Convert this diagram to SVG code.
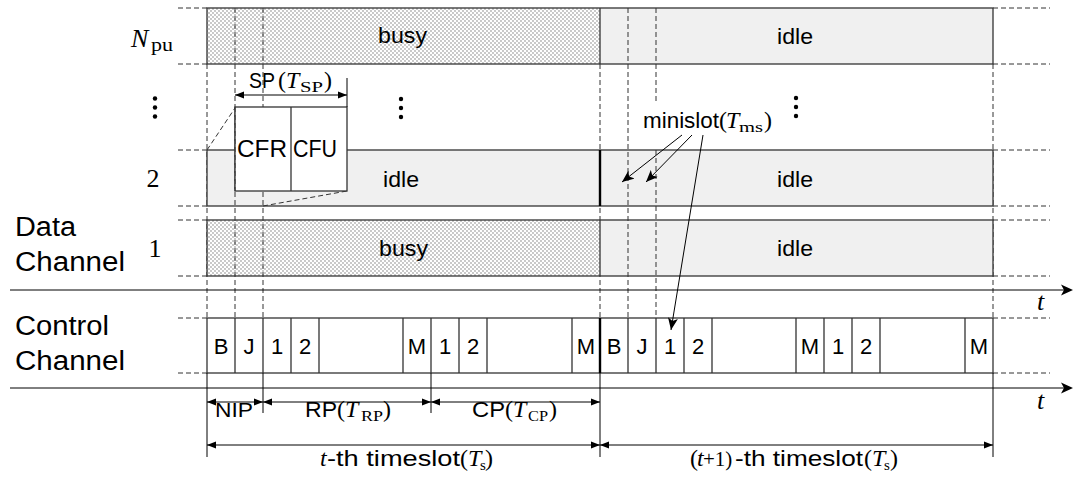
<svg xmlns="http://www.w3.org/2000/svg" width="1073" height="477" viewBox="0 0 1073 477">
<defs>
<pattern id="dots" width="4" height="4" patternUnits="userSpaceOnUse"><rect width="4" height="4" fill="#fff"/><circle cx="1" cy="1" r="0.65" fill="#666"/><circle cx="3" cy="3" r="0.65" fill="#666"/></pattern>
<marker id="ah" viewBox="0 0 10 8" refX="10" refY="4" markerWidth="9" markerHeight="8" markerUnits="userSpaceOnUse" orient="auto-start-reverse"><path d="M0,0 L10,4 L0,8 Z" fill="#000"/></marker>
<marker id="sa" viewBox="0 0 12 10" refX="12" refY="5" markerWidth="12" markerHeight="10" markerUnits="userSpaceOnUse" orient="auto"><path d="M0,0 L12,5 L0,10 L3,5 Z" fill="#000"/></marker>
<style>
.sans{font-family:"Liberation Sans",Arial,sans-serif;fill:#000}
.serif{font-family:"Liberation Serif","Times New Roman",serif;fill:#000}
.it{font-style:italic}
.dash{stroke:#333;stroke-width:1;stroke-dasharray:5 3;fill:none}
.box{stroke:#333;stroke-width:1.3}
.ln{stroke:#000;stroke-width:1;fill:none}
.dim{stroke:#000;stroke-width:1;fill:none;marker-start:url(#ah);marker-end:url(#ah)}
.cell{font-size:22px;text-anchor:middle}
.lbl{font-size:22px}
</style>
</defs>
<rect width="1073" height="477" fill="#fff"/>

<g id="guides">
<path class="dash" d="M178,8H207M178,64H207M178,150H207M178,206H207M178,220H207M178,276H207M178,318H207M178,373H207"/>
<path class="dash" d="M993,8H1050M993,64H1050M993,150H1050M993,206H1050M993,220H1050M993,276H1050M993,318H1050M993,373H1050"/>
<path class="dash" d="M207,64V318M600,64V318M993,64V318"/>
</g>

<g id="row-npu">
<rect x="207" y="8" width="393" height="56" fill="url(#dots)"/>
<rect x="600" y="8" width="393" height="56" fill="#f0f0f0"/>
<rect class="box" x="207" y="8" width="786" height="56" fill="none"/>
<line class="box" x1="600" y1="8" x2="600" y2="64"/>
<text class="sans lbl" x="378" y="43" textLength="49" lengthAdjust="spacingAndGlyphs">busy</text>
<text class="sans lbl" x="777" y="44" textLength="36" lengthAdjust="spacingAndGlyphs">idle</text>
<text class="serif" y="47"><tspan class="it" x="131" font-size="26">N</tspan><tspan x="151" y="51" font-size="18" textLength="22" lengthAdjust="spacingAndGlyphs">pu</tspan></text>
</g>

<g id="row-2">
<rect class="box" x="207" y="150" width="786" height="56" fill="#f0f0f0"/>
<line stroke="#000" stroke-width="2.4" x1="600" y1="150" x2="600" y2="206"/>
<text class="sans lbl" x="383" y="187" textLength="36" lengthAdjust="spacingAndGlyphs">idle</text>
<text class="sans lbl" x="777" y="187" textLength="36" lengthAdjust="spacingAndGlyphs">idle</text>
<text class="serif" x="153" y="187" font-size="26" text-anchor="middle">2</text>
</g>

<g id="row-1">
<rect x="207" y="220" width="393" height="56" fill="url(#dots)"/>
<rect x="600" y="220" width="393" height="56" fill="#f0f0f0"/>
<rect class="box" x="207" y="220" width="786" height="56" fill="none"/>
<line class="box" x1="600" y1="220" x2="600" y2="276"/>
<text class="sans lbl" x="379" y="256" textLength="49" lengthAdjust="spacingAndGlyphs">busy</text>
<text class="sans lbl" x="777" y="256" textLength="36" lengthAdjust="spacingAndGlyphs">idle</text>
<text class="serif" x="155" y="257" font-size="26" text-anchor="middle">1</text>
</g>

<g id="vdots" fill="#000">
<circle cx="155" cy="98.5" r="2.2"/><circle cx="155" cy="107.5" r="2.2"/><circle cx="155" cy="116.5" r="2.2"/>
<circle cx="401" cy="99" r="2.2"/><circle cx="401" cy="108" r="2.2"/><circle cx="401" cy="117" r="2.2"/>
<circle cx="796" cy="98" r="2.2"/><circle cx="796" cy="107" r="2.2"/><circle cx="796" cy="116" r="2.2"/>
</g>

<g id="minislot-guides">
<path class="dash" d="M235,8V318M263,8V318M628,8V318M656,8V103M656,150V318"/>
</g>

<g id="sp-box">
<path class="dash" d="M207,150L235,108M263,206L347,191"/>
<rect class="box" x="235" y="107" width="112" height="84" fill="#fff"/>
<line class="box" x1="291" y1="107" x2="291" y2="191"/>
<line class="dash" x1="235" y1="107" x2="235" y2="191"/>
<text class="sans" x="237" y="157" font-size="23" textLength="50" lengthAdjust="spacingAndGlyphs">CFR</text>
<text class="sans" x="293" y="157" font-size="23" textLength="44" lengthAdjust="spacingAndGlyphs">CFU</text>
<text y="88"><tspan class="sans" x="249" font-size="22" textLength="26" lengthAdjust="spacingAndGlyphs">SP</tspan><tspan class="serif" x="278" font-size="24">(</tspan><tspan class="serif it" x="286" font-size="24">T</tspan><tspan class="serif" x="300" y="92" font-size="15" textLength="23" lengthAdjust="spacingAndGlyphs">SP</tspan><tspan class="serif" x="324" y="88" font-size="24">)</tspan></text>
</g>

<g id="control">
<rect class="box" x="207" y="318" width="786" height="55" fill="#fff"/>
<path class="box" fill="none" d="M235,318V373M263,318V373M291,318V373M319,318V373M403,318V373M431,318V373M459,318V373M487,318V373M572,318V373M628,318V373M656,318V373M684,318V373M712,318V373M796,318V373M824,318V373M852,318V373M880,318V373M965,318V373"/>
<line stroke="#000" stroke-width="2.4" x1="600" y1="318" x2="600" y2="373"/>
<g class="sans cell">
<text x="221" y="354">B</text><text x="249" y="354">J</text><text x="277" y="354">1</text><text x="305" y="354">2</text>
<text x="417" y="354">M</text><text x="445" y="354">1</text><text x="473" y="354">2</text><text x="586" y="354">M</text>
<text x="614" y="354">B</text><text x="642" y="354">J</text><text x="670" y="354">1</text><text x="698" y="354">2</text>
<text x="810" y="354">M</text><text x="838" y="354">1</text><text x="866" y="354">2</text><text x="979" y="354">M</text>
</g>
</g>

<g id="channel-labels" class="sans" font-size="27">
<text x="15" y="236" textLength="61" lengthAdjust="spacingAndGlyphs">Data</text>
<text x="15" y="271" textLength="110" lengthAdjust="spacingAndGlyphs">Channel</text>
<text x="15" y="335" textLength="94" lengthAdjust="spacingAndGlyphs">Control</text>
<text x="15" y="370" textLength="110" lengthAdjust="spacingAndGlyphs">Channel</text>
</g>

<g id="connectors">
<line class="ln" x1="10" y1="290" x2="1066" y2="290"/>
<path d="M1073,290 L1061,284.5 L1064,290 L1061,295.5 Z" fill="#000"/>
<line class="ln" x1="10" y1="388" x2="1066" y2="388"/>
<path d="M1073,388 L1061,382.5 L1064,388 L1061,393.5 Z" fill="#000"/>
<path class="ln" d="M207,373V457M263,373V413M431,373V413M600,373V457M993,373V457M347,78V107"/>
<line class="dim" x1="235" y1="95" x2="347" y2="95"/>
<line class="dim" x1="207" y1="402" x2="263" y2="402"/>
<line class="dim" x1="263" y1="402" x2="431" y2="402"/>
<line class="dim" x1="431" y1="402" x2="600" y2="402"/>
<line class="dim" x1="207" y1="445" x2="600" y2="445"/>
<line class="dim" x1="600" y1="445" x2="993" y2="445"/>
<line class="ln" x1="682" y1="135" x2="622" y2="182" marker-end="url(#sa)"/>
<line class="ln" x1="692" y1="135" x2="646" y2="182" marker-end="url(#sa)"/>
<line class="ln" x1="703" y1="135" x2="671" y2="330" marker-end="url(#sa)"/>
</g>

<g id="texts">
<text y="128"><tspan class="sans" x="643" font-size="22" textLength="76" lengthAdjust="spacingAndGlyphs">minislot</tspan><tspan class="serif" x="719" font-size="24">(</tspan><tspan class="serif it" x="726" font-size="24">T</tspan><tspan class="serif" x="739" y="132" font-size="15" textLength="24" lengthAdjust="spacingAndGlyphs">ms</tspan><tspan class="serif" x="764" y="128" font-size="24">)</tspan></text>
<text class="serif it" x="1037" y="310" font-size="26">t</text>
<text class="serif it" x="1037" y="409" font-size="26">t</text>
<text class="sans" x="215" y="417" font-size="21" textLength="38" lengthAdjust="spacingAndGlyphs">NIP</text>
<text y="417"><tspan class="sans" x="305" font-size="22" textLength="32" lengthAdjust="spacingAndGlyphs">RP</tspan><tspan class="serif" x="337" font-size="24">(</tspan><tspan class="serif it" x="345" font-size="24">T</tspan><tspan class="serif" x="361" y="421" font-size="15" textLength="22" lengthAdjust="spacingAndGlyphs">RP</tspan><tspan class="serif" x="383" y="417" font-size="24">)</tspan></text>
<text y="417"><tspan class="sans" x="472" font-size="22" textLength="33" lengthAdjust="spacingAndGlyphs">CP</tspan><tspan class="serif" x="505" font-size="24">(</tspan><tspan class="serif it" x="513" font-size="24">T</tspan><tspan class="serif" x="528" y="421" font-size="15" textLength="20" lengthAdjust="spacingAndGlyphs">CP</tspan><tspan class="serif" x="549" y="417" font-size="24">)</tspan></text>
<text y="466"><tspan class="serif it" x="320" font-size="24">t</tspan><tspan class="sans" x="327" font-size="22" textLength="133" lengthAdjust="spacingAndGlyphs">-th timeslot</tspan><tspan class="serif" x="460" font-size="24">(</tspan><tspan class="serif it" x="468" font-size="24">T</tspan><tspan class="serif" x="480" y="470" font-size="15">s</tspan><tspan class="serif" x="485" y="466" font-size="24">)</tspan></text>
<text y="466"><tspan class="serif" x="690" font-size="24">(</tspan><tspan class="serif it" x="697" font-size="24">t</tspan><tspan class="serif" x="703" font-size="21">+1)</tspan><tspan class="sans" x="735" font-size="22" textLength="128" lengthAdjust="spacingAndGlyphs">-th timeslot</tspan><tspan class="serif" x="864" font-size="24">(</tspan><tspan class="serif it" x="872" font-size="24">T</tspan><tspan class="serif" x="884" y="470" font-size="15">s</tspan><tspan class="serif" x="890" y="466" font-size="24">)</tspan></text>
</g>
</svg>
